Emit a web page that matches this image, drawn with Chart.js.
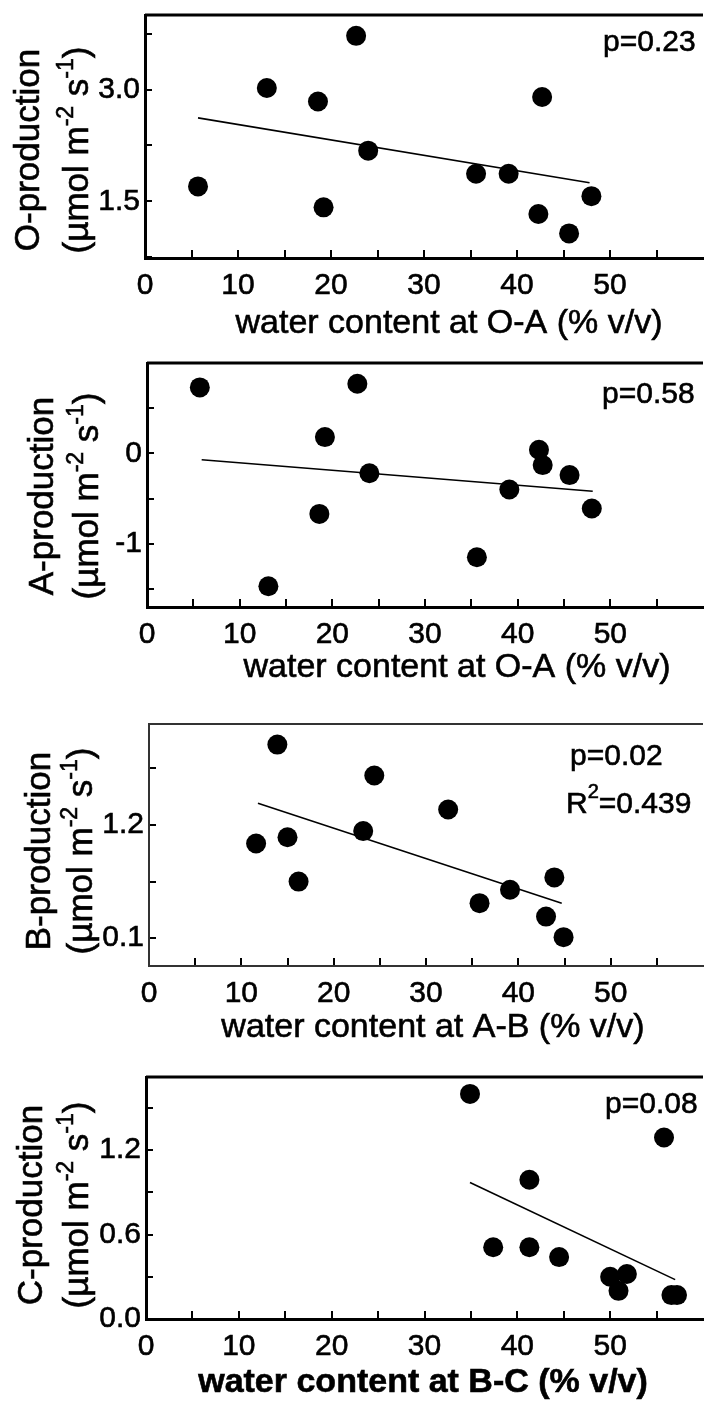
<!DOCTYPE html>
<html>
<head>
<meta charset="utf-8">
<script src="https://cdn.jsdelivr.net/npm/chart.js@4.4.1/dist/chart.umd.min.js"></script>
<style>
  html, body { margin: 0; padding: 0; background: #fff; }
  #wrap { position: relative; width: 713px; height: 1403px; overflow: hidden; }
  canvas { position: absolute; left: 0; }
</style>
</head>
<body>
<div id="wrap">
  <canvas id="c1"></canvas>
  <canvas id="c2"></canvas>
  <canvas id="c3"></canvas>
  <canvas id="c4"></canvas>
</div>
<script>
// water content at O-A (% v/v), same samples in the O and A panels
var waterOA = [5.7, 13.1, 18.6, 19.2, 22.7, 24.0, 35.6, 39.1, 42.3, 42.7, 45.6, 48.0];
var prodO = [1.70, 3.02, 2.84, 1.42, 3.72, 2.18, 1.87, 1.87, 1.33, 2.90, 1.07, 1.57];
var prodA = [0.73, -1.47, -0.67, 0.18, 0.77, -0.22, -1.15, -0.40, 0.04, -0.13, -0.24, -0.61];

// water content at A-B
var waterAB = [11.6, 13.9, 15.0, 16.2, 23.2, 24.4, 32.4, 35.8, 39.1, 43.0, 43.9, 44.9];
var prodB = [1.02, 1.98, 1.08, 0.65, 1.14, 1.68, 1.35, 0.44, 0.57, 0.31, 0.69, 0.11];

// water content at B-C
var waterBC = [34.9, 37.4, 41.3, 41.3, 44.5, 50.0, 50.9, 51.8, 55.8, 56.6, 57.2];
var prodC = [1.60, 0.51, 0.99, 0.51, 0.44, 0.30, 0.20, 0.32, 1.29, 0.17, 0.17];

// regression lines (end points)
var fitOX = [5.7, 47.8], fitOY = [2.62, 1.75];
var fitAX = [5.9, 48.1], fitAY = [-0.07, -0.42];
var fitBX = [11.8, 44.7], fitBY = [1.41, 0.44];
var fitCX = [34.9, 57.0], fitCY = [0.97, 0.28];

// ticks
var xTicks = [0, 5, 10, 15, 20, 25, 30, 35, 40, 45, 50, 55];
var xTickLabels = ['0', '', '10', '', '20', '', '30', '', '40', '', '50', ''];
var yTicksO = [0.75, 1.5, 2.25, 3.0, 3.75];
var yLabelsO = ['', '1.5', '', '3.0', ''];
var yTicksA = [-1.5, -1, -0.5, 0, 0.5];
var yLabelsA = ['', '-1', '', '0', ''];
var yTicksB = [0.1, 0.65, 1.2, 1.75];
var yLabelsB = ['0.1', '', '1.2', ''];
var yTicksC = [0, 0.3, 0.6, 0.9, 1.2, 1.5];
var yLabelsC = ['0.0', '', '0.6', '', '1.2', ''];

// texts
var yNames = ['O-production', 'A-production', 'B-production', 'C-production'];
var xNames = ['water content at O-A (% v/v)', 'water content at O-A (% v/v)',
              'water content at A-B (% v/v)', 'water content at B-C (% v/v)'];
var unitRuns = [['(\u00b5mol m'], ['-2', 1], [' s'], ['-1', 1], [')']];
var notesO = [[['p=0.23']]];
var notesA = [[['p=0.58']]];
var notesB = [[['p=0.02']], [['R'], ['2', 1], ['=0.439']]];
var notesC = [[['p=0.08']]];

var FONT = '"Liberation Sans", Arial, sans-serif';

function setFont(ctx, size, bold) {
  ctx.font = (bold ? 'bold ' : '') + size + 'px ' + FONT;
}

// draws text pieces along the x axis of the current transform; sup pieces are raised
function drawRuns(ctx, runs, size, x, y, center, bold) {
  var supSize = Math.round(size * 0.66);
  var total = 0;
  runs.forEach(function (r) {
    setFont(ctx, r[1] ? supSize : size, bold);
    total += ctx.measureText(r[0]).width;
  });
  var cx = center ? x - total / 2 : x;
  ctx.lineWidth = 0.6;
  ctx.strokeStyle = '#000';
  runs.forEach(function (r) {
    setFont(ctx, r[1] ? supSize : size, bold);
    var ty = r[1] ? y - size * 0.42 : y;
    ctx.fillText(r[0], cx, ty);
    ctx.strokeText(r[0], cx, ty);
    cx += ctx.measureText(r[0]).width;
  });
}

function textPlugin(p) {
  return {
    id: 'panelText',
    afterDraw: function (chart) {
      var ctx = chart.ctx, a = chart.chartArea;
      ctx.save();
      // top edge of the frame
      ctx.strokeStyle = p.frameColor;
      ctx.lineWidth = p.frame;
      ctx.beginPath();
      ctx.moveTo(a.left, a.top);
      ctx.lineTo(a.right, a.top);
      ctx.stroke();

      ctx.fillStyle = '#000';
      ctx.textBaseline = 'alphabetic';
      // y title, two rotated lines
      ctx.save();
      ctx.translate(p.yBase[0], p.yMid - p.top);
      ctx.rotate(-Math.PI / 2);
      drawRuns(ctx, [[p.yName]], 35, 0, 0, true, false);
      ctx.restore();
      ctx.save();
      ctx.translate(p.yBase[1], p.yMid - p.top);
      ctx.rotate(-Math.PI / 2);
      drawRuns(ctx, unitRuns, 35, 0, 0, true, false);
      ctx.restore();

      // x title
      ctx.textBaseline = 'middle';
      drawRuns(ctx, [[p.xName]], 34, p.xPos[0], p.xPos[1] - p.top, true, p.bold);

      // p / R2 notes
      p.notes.forEach(function (n, i) {
        drawRuns(ctx, n, 30, p.notePos[i][0], p.notePos[i][1] - p.top, false, false);
      });
      ctx.restore();
    }
  };
}

var panels = [
  { id: 'c1', top: 0, height: 345, areaTop: 15, areaLeft: 145, areaBottom: 258,
    x: waterOA, y: prodO, fitX: fitOX, fitY: fitOY, yMin: 0.74, yMax: 4.0,
    yTicks: yTicksO, yLabels: yLabelsO, frame: 3, frameColor: '#000',
    yName: yNames[0], yMid: 150, yBase: [39, 88],
    xName: xNames[0], xPos: [449, 324], bold: false,
    notes: notesO, notePos: [[603, 43]] },
  { id: 'c2', top: 345, height: 355, areaTop: 363, areaLeft: 147, areaBottom: 607,
    x: waterOA, y: prodA, fitX: fitAX, fitY: fitAY, yMin: -1.7, yMax: 1.0,
    yTicks: yTicksA, yLabels: yLabelsA, frame: 3, frameColor: '#000',
    yName: yNames[1], yMid: 496, yBase: [53, 98],
    xName: xNames[1], xPos: [457, 668], bold: false,
    notes: notesA, notePos: [[602, 395]] },
  { id: 'c3', top: 700, height: 355, areaTop: 724, areaLeft: 149, areaBottom: 966,
    x: waterAB, y: prodB, fitX: fitBX, fitY: fitBY, yMin: -0.17, yMax: 2.18,
    yTicks: yTicksB, yLabels: yLabelsB, frame: 2, frameColor: '#333',
    yName: yNames[2], yMid: 851, yBase: [50, 92],
    xName: xNames[2], xPos: [433, 1028], bold: false,
    notes: notesB, notePos: [[570, 757], [566, 805]] },
  { id: 'c4', top: 1055, height: 348, areaTop: 1077, areaLeft: 146, areaBottom: 1319,
    x: waterBC, y: prodC, fitX: fitCX, fitY: fitCY, yMin: 0, yMax: 1.72,
    yTicks: yTicksC, yLabels: yLabelsC, frame: 3, frameColor: '#000',
    yName: yNames[3], yMid: 1205, yBase: [42, 88],
    xName: xNames[3], xPos: [423, 1383], bold: true,
    notes: notesC, notePos: [[605, 1105]] }
];

panels.forEach(function (p) {
  var canvas = document.getElementById(p.id);
  canvas.width = 713;
  canvas.height = p.height;
  canvas.style.top = p.top + 'px';

  var pts = p.x.map(function (v, i) { return { x: v, y: p.y[i] }; });
  var fit = p.fitX.map(function (v, i) { return { x: v, y: p.fitY[i] }; });

  new Chart(canvas.getContext('2d'), {
    type: 'scatter',
    data: {
      datasets: [{
        data: pts,
        pointRadius: 10,
        pointBackgroundColor: '#000',
        pointBorderWidth: 0
      }, {
        type: 'line',
        data: fit,
        borderColor: '#000',
        borderWidth: 1.6,
        pointRadius: 0,
        showLine: true,
        fill: false
      }]
    },
    options: {
      responsive: false,
      animation: false,
      events: [],
      layout: { padding: { top: p.areaTop - p.top, left: 0, right: 0, bottom: 0 } },
      plugins: { legend: { display: false }, tooltip: { enabled: false } },
      scales: {
        x: {
          type: 'linear',
          min: 0,
          max: 60,
          afterBuildTicks: function (s) { s.ticks = xTicks.map(function (v) { return { value: v }; }); },
          afterFit: function (s) { s.height = p.top + p.height - p.areaBottom; s.paddingLeft = 0; s.paddingRight = 0; },
          grid: { display: true, drawOnChartArea: false, color: '#000', lineWidth: 2, tickLength: -8 },
          border: { display: true, color: p.frameColor, width: p.frame },
          ticks: {
            autoSkip: false, maxRotation: 0, padding: 18, color: '#000',
            textStrokeColor: '#000', textStrokeWidth: 0.6,
            font: { family: FONT, size: 30 },
            callback: function (v, i) { return xTickLabels[i]; }
          }
        },
        y: {
          type: 'linear',
          min: p.yMin,
          max: p.yMax,
          afterBuildTicks: function (s) { s.ticks = p.yTicks.map(function (v) { return { value: v }; }); },
          afterFit: function (s) { s.width = p.areaLeft; s.paddingTop = 0; s.paddingBottom = 0; },
          grid: { display: true, drawOnChartArea: false, color: '#000', lineWidth: 2, tickLength: -7 },
          border: { display: true, color: p.frameColor, width: p.frame },
          ticks: {
            padding: 12, color: '#000',
            textStrokeColor: '#000', textStrokeWidth: 0.6,
            font: { family: FONT, size: 30 },
            callback: function (v, i) { return p.yLabels[i]; }
          }
        }
      }
    },
    plugins: [textPlugin(p)]
  });
});
</script>
</body>
</html>
